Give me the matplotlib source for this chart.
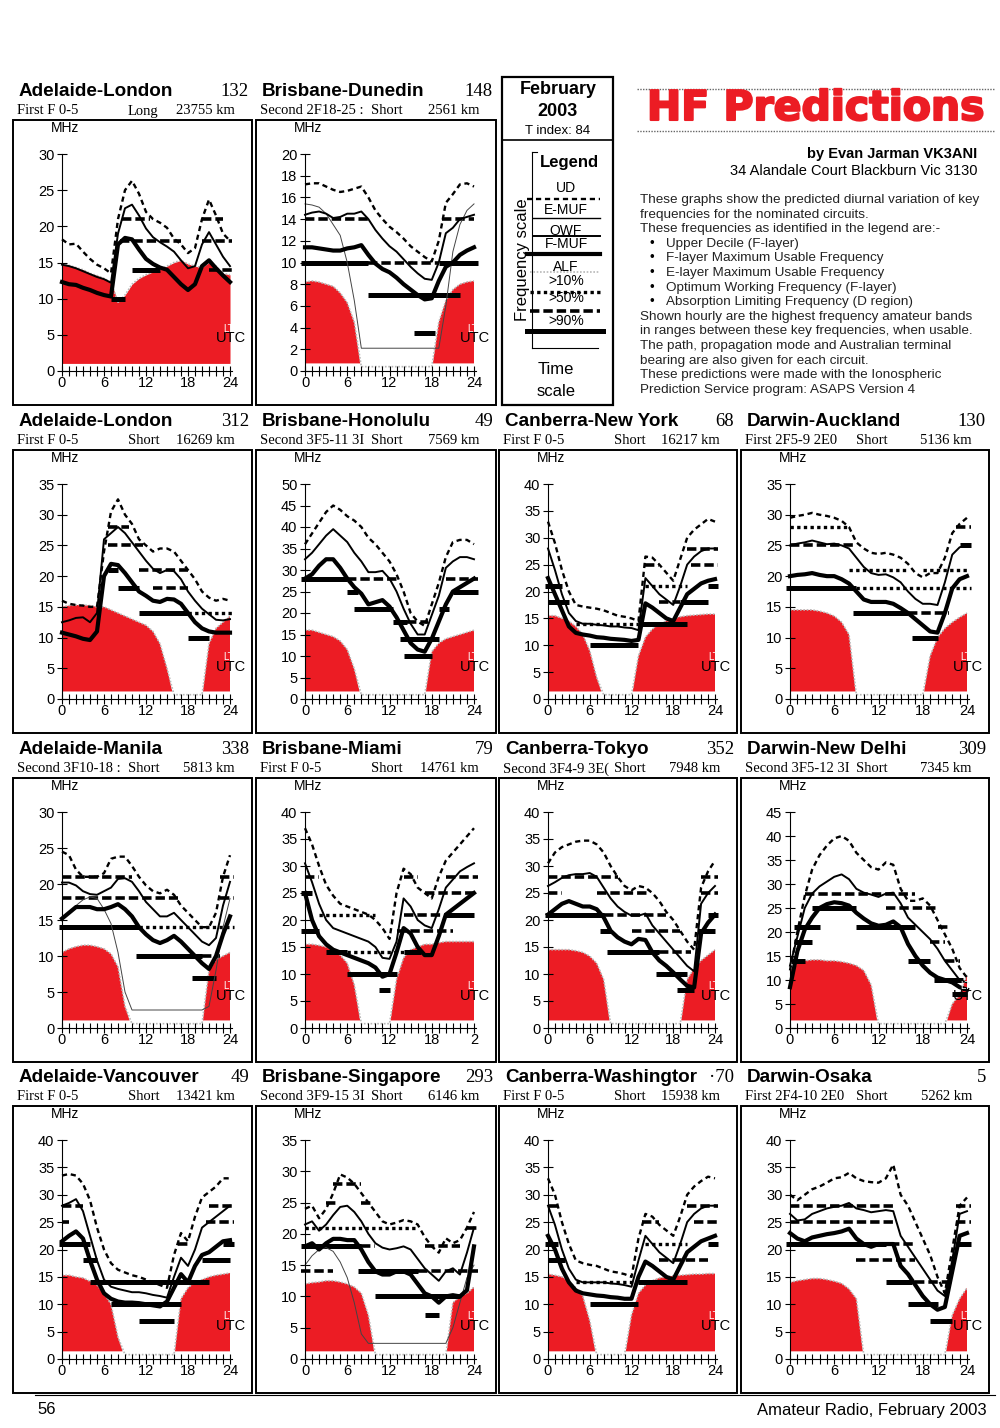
import matplotlib
matplotlib.use("Agg")
import numpy as np
import matplotlib.pyplot as plt
from matplotlib.patches import Rectangle
import matplotlib.patheffects as pe

W, H = 1000, 1428
RED = '#ec1c24'
SANS = ['Liberation Sans', 'DejaVu Sans']
SERIF = ['Liberation Serif', 'DejaVu Serif']

hours = list(range(25))
hour_labels = ['0', '6', '12', '18', '24']
miami_labels = ['0', '6', '12', '18', '2']

# band bars: (MHz, from hour, to hour, probability level %)

# Adelaide-London (long path)
al132_ud = [18.2, 17.5, 17.6, 16.5, 15.5, 14.7, 14.2, 13.5, 21, 25, 26.3, 24.5, 22, 21, 20.5, 19.8, 18.3, 17.5, 16.3, 17, 21, 23.7, 21.5, 19, 18]
al132_muf = [14.7, 14.5, 14.2, 13.8, 13.4, 13, 12.7, 12.2, 19, 22.5, 23, 21.5, 19.7, 18.5, 17.8, 17.2, 16.5, 15.3, 14.2, 14.5, 17.5, 19.2, 17.5, 15.8, 14.5]
al132_owf = [12.3, 12, 11.9, 11.5, 11.2, 10.8, 10.5, 10.3, 17.5, 18.4, 18.2, 16.8, 15.5, 14.8, 14.3, 14, 13, 12, 11.2, 12, 14.5, 15.3, 14.2, 13.2, 12.3]
al132_alf = [14.8, 14.6, 14.3, 14, 13.5, 13.2, 12.8, 12.3, 9.5, 10.5, 12, 12.8, 13.3, 13.7, 14, 14.5, 15, 15.3, 14.8, 14.5, 14.3, 15, 14.5, 13.5, 13.3]
al132_bands = [(21, 8.5, 12.5, 50), (18, 8.3, 17, 50), (14, 10, 14, 90), (10, 7, 9, 90),
               (21, 20, 23, 50), (18, 20, 24.3, 50), (14, 21, 24.3, 50)]

# Brisbane-Dunedin
bd_ud = [17.2, 17.3, 17.3, 17, 16.7, 16.5, 16.6, 16.8, 17, 16, 14.8, 14, 13.3, 12.8, 12.2, 11.5, 11, 10.5, 10.1, 12, 15.5, 16.3, 17.2, 17.3, 17]
bd_muf = [14.4, 14.6, 14.7, 14.5, 14.1, 14.2, 14.5, 14.5, 14.7, 14, 13, 12.2, 11.5, 11, 10.3, 9.6, 9, 8.5, 8.4, 10, 12.7, 13.2, 14, 14.2, 14.4]
bd_owf = [11.4, 11.4, 11.3, 11.2, 11.1, 11.1, 11.3, 11.4, 11.6, 10.7, 9.9, 9.4, 9.1, 8.6, 8, 7.5, 7, 6.6, 6.7, 8.3, 9.6, 10, 10.7, 11.1, 11.4]
bd_emuf = [15.4, 15.3, 15.1, 14.5, 13.5, 12.5, 10, 6.5, 2.1, 2.1, 2.1, 2.1, 2.1, 2.1, 2.1, 2.1, 2.1, 2.1, 2.1, 2.1, 6, 11, 13.5, 14.8, 15.4]
bd_alf = [8.2, 8.3, 8.2, 8, 7.8, 7.2, 6.3, 4.5, 0, 0, 0, 0, 0, 0, 0, 0, 0, 0, 0, 4.5, 6.5, 7.5, 8, 8.2, 8.3]
bd_bands = [(14, 0, 9, 50), (14, 19.5, 24, 50), (10, 9, 19, 50), (10, -0.5, 9, 90), (10, 19, 24.5, 90),
            (7, 9, 22, 90), (3.5, 15.5, 18.5, 90)]

# Adelaide-London (short path)
al312_ud = [16, 15.5, 15.3, 15.2, 15, 15, 24, 30.5, 32.5, 30, 28.5, 26, 25, 24, 24.5, 24.5, 24, 22.5, 21, 19.5, 17.5, 16.5, 16, 16.3, 16]
al312_muf = [12.5, 12.8, 13.2, 13.3, 12.5, 14, 26, 27, 28, 27, 25.5, 24, 22.5, 21.2, 20.5, 21, 20.8, 19.5, 17.5, 16, 14.7, 13.8, 12.9, 12.8, 13]
al312_owf = [10.8, 10.5, 10.2, 9.8, 9.6, 11, 20, 22, 21.8, 20.5, 19, 17.5, 16.8, 16, 15.8, 16.3, 16.2, 15.5, 14, 12.5, 11.5, 11, 10.8, 10.8, 10.8]
al312_alf = [15, 15.2, 15.3, 15.3, 15.2, 15, 15, 14.5, 14, 13.5, 13, 12.5, 12, 11, 9, 5, 0, 0, 0, 0, 0, 9, 11.5, 12.5, 13.5]
al312_bands = [(28, 6.5, 9.5, 50), (25, 6.5, 11.5, 50), (21, 11, 18, 50), (21, 6.5, 8, 90), (18, 13, 18, 50),
               (18, 8, 11, 90), (14, 11, 18, 90), (14, 18, 24.3, 10), (10, 18, 21, 90)]

# Brisbane-Honolulu
bh_ud = [36, 38.5, 41, 43.5, 45, 44, 42.5, 41.5, 40, 37.5, 36, 34, 32, 29, 25, 20, 18, 17, 22, 27, 33, 36.5, 37, 37, 36]
bh_muf = [32.5, 34, 36, 38, 39.5, 38, 36.5, 34, 32, 29.5, 29.5, 29.8, 28, 25, 21, 17.5, 15, 15, 19.5, 24, 30.5, 32, 33, 33, 32.5]
bh_owf = [28, 29, 31, 32.5, 32.5, 30.5, 28, 26, 24.5, 22, 22.5, 23, 21.5, 19, 16, 13, 11.5, 11, 14, 18, 22, 25, 26, 27, 28]
bh_alf = [16, 16, 15.5, 15, 14.5, 13.5, 11.5, 7, 0, 0, 0, 0, 0, 0, 0, 0, 0, 0, 11, 13, 14, 14.5, 15, 15.5, 16]
bh_bands = [(28, -0.5, 6, 90), (28, 6, 13, 50), (28, 20, 24.5, 50), (25, 6, 7.5, 90), (25, 21, 24.5, 90),
            (21, 7, 12.5, 90), (21, 19, 20.5, 90), (18, 12.5, 14.5, 90), (18, 14.5, 17.5, 50),
            (14, 13.5, 19, 90), (10, 14, 18, 90)]

# Canberra-New York
cny_ud = [33, 29, 24, 20, 17.5, 17.2, 17, 16.8, 16.5, 16, 15.5, 15.3, 15, 14.5, 26.5, 26.3, 25, 23.5, 22, 26, 30, 31.5, 32.5, 33.5, 33]
cny_muf = [28, 24, 19.5, 16, 14.5, 14, 14, 13.8, 13.7, 13.5, 13.5, 13.3, 13.2, 12.8, 22.5, 21, 19.5, 18.5, 17.5, 21, 25, 26.5, 27.5, 28, 28]
cny_owf = [22.5, 19.5, 16.5, 13.5, 12.3, 12, 11.8, 11.5, 11.4, 11.2, 11.1, 11, 10.8, 11, 17.8, 17, 16, 15, 14.5, 17, 19.5, 20.5, 21.5, 22, 22.3]
cny_alf = [15.5, 15.5, 15, 14.5, 13.5, 12, 9, 4, 0, 0, 0, 0, 0, 8, 11.5, 13, 14, 14.5, 15, 15.3, 15.5, 15.6, 15.7, 15.8, 15.8]
cny_bands = [(21, -0.5, 2, 90), (18, 0, 3, 90), (14, 4, 13, 10), (14, 13, 20, 90), (10, 6, 13, 90),
             (25, 14, 16, 50), (25, 20.5, 24.5, 50), (28, 20, 24.5, 50), (21, 14, 20, 10), (21, 23, 24.5, 90),
             (18, 16, 19, 50), (18, 19, 23, 90)]

# Darwin-Auckland
da_ud = [29.5, 29.8, 30, 30.3, 30, 29.8, 29.5, 29, 28, 25.5, 24.5, 23.8, 23.6, 23.8, 23.5, 23, 22, 20.5, 19.8, 20.5, 20.5, 23, 27, 28.5, 29.5]
da_muf = [25, 25.3, 25.5, 25.8, 25.5, 25.2, 25.3, 25, 24.5, 23, 21.5, 20.5, 20.2, 20.3, 19.8, 19, 17.5, 16.3, 15.5, 15.5, 15.3, 19, 23.5, 24.7, 25]
da_owf = [20, 20.2, 20.3, 20.5, 20.2, 20, 20, 19.5, 18.8, 17.5, 16.2, 15.8, 15.8, 15.8, 15.5, 14.8, 14, 13, 12, 11, 10.8, 14, 18, 19.5, 20]
da_alf = [14.5, 14.5, 14.5, 14.5, 14.3, 14, 13.5, 12.5, 10.5, 0, 0, 0, 0, 0, 0, 0, 0, 0, 0, 7, 10, 11.5, 12.5, 13.3, 14]
da_bands = [(28, 0, 8, 10), (28, 22.5, 24.5, 50), (25, 0, 8.5, 50), (25, 23, 24.5, 90), (21, 8, 16, 10),
            (21, 18, 24, 10), (18, -0.5, 9, 90), (18, 9, 24.5, 10), (14, 8.5, 16, 90), (14, 16, 21.5, 50),
            (10, 16.5, 20, 90)]

# Adelaide-Manila
am_ud = [24.5, 24, 22, 21, 21, 21, 21.5, 23.5, 23.8, 23.8, 22.5, 21, 19.8, 19, 18.7, 19.2, 18.5, 17, 16, 15, 14, 14, 16, 21, 24]
am_muf = [20.2, 20.2, 19.8, 19, 18.6, 18.5, 19, 19.5, 20.7, 20.8, 20.3, 19, 17.5, 16.5, 15.5, 15.5, 16, 15, 14, 13, 12, 11.5, 12.5, 17, 20.3]
am_owf = [15.2, 16, 16.8, 16.8, 16.8, 16.5, 16.5, 16.8, 17.2, 16.5, 15.5, 14, 13, 12.2, 11.8, 12.2, 12.8, 12, 11, 10, 9, 8.2, 10, 13, 15.5]
am_emuf = [15.2, 16, 17, 17.8, 18.2, 18, 16.5, 14.5, 10.5, 5, 2.5, 2.5, 2.5, 2.5, 2.5, 2.5, 2.5, 2.5, 2.5, 2.5, 2.5, 3, 8, 14, 18]
am_alf = [10.5, 11, 11.3, 11.5, 11.5, 11.3, 11, 10.3, 8.5, 3, 0, 0, 0, 0, 0, 0, 0, 0, 0, 0, 0, 8, 9.5, 10, 10.5]
am_bands = [(21, 0, 10, 50), (21, 22.5, 24.5, 50), (18, 0, 16.5, 50), (18, 22.5, 24.5, 50), (14, -0.5, 11, 90),
            (14, 11, 24.5, 10), (10, 10.5, 20, 90), (10, 20, 22.5, 50), (7, 18.5, 22, 90)]

# Brisbane-Miami
bm_ud = [37, 34, 30, 26.5, 24.5, 23, 22.5, 22, 21.5, 21, 20, 18.5, 16.5, 25, 29.5, 28.5, 26, 25, 24, 28, 31, 32.5, 34, 35.5, 37]
bm_muf = [30.5, 27, 23, 20, 18.5, 18, 17.5, 17, 16.5, 16, 15, 13, 12.8, 16, 24, 22.5, 20, 19, 18.5, 22, 26, 27.5, 29, 29.8, 30.5]
bm_owf = [25, 20, 17, 15.5, 14.5, 14, 13.5, 13, 12.5, 12, 11.2, 9.5, 10, 14, 18.5, 17.5, 15, 13.5, 13.5, 17, 21, 22, 23, 24, 25]
bm_alf = [15.5, 15.5, 15.3, 15, 14.5, 13.5, 12, 8, 0, 0, 0, 0, 0, 9, 13, 14.5, 15, 15.5, 15.5, 15.8, 16, 16, 16, 16, 16]
bm_bands = [(28, 0, 2, 50), (28, 14, 16, 50), (28, 20, 24.5, 50), (25, -0.5, 1, 90), (25, 17, 24.5, 50),
            (21, 2, 10, 10), (21, 14, 20, 50), (21, 20, 24, 90), (18, -0.5, 2, 90), (18, 13, 21, 50),
            (14, 3, 6, 90), (14, 6, 14, 10), (14, 14, 16.5, 90), (10, 6, 13, 90), (7, 10.5, 12, 90)]

# Canberra-Tokyo
ct_ud = [30.5, 32.5, 33.5, 34, 34.5, 34.7, 34.7, 34, 32.5, 30, 28, 26.3, 25.5, 26.3, 26, 25, 23.5, 21.5, 20, 18, 16, 14.5, 26, 29, 31]
ct_muf = [26.3, 27, 27.8, 28.3, 28.5, 28.5, 28.7, 28, 26, 24, 22.5, 21.5, 20.8, 20.8, 21.2, 19, 17.5, 16, 14.5, 13, 11.5, 10.5, 23, 25, 26.3]
ct_owf = [21, 22, 23, 23.5, 23, 22.5, 22.5, 22, 20.5, 18, 16.8, 16, 15.5, 16.5, 16.3, 14, 12.5, 11.5, 10.3, 9, 7.8, 7.5, 17.5, 19.5, 21]
ct_alf = [14.5, 14.5, 14.5, 14.5, 14.3, 14, 13.3, 12, 9, 0, 0, 0, 0, 0, 0, 0, 0, 0, 0, 0, 9, 11, 12.5, 13.5, 14.5]
ct_bands = [(28, 0, 10, 50), (28, 22, 24.5, 50), (25, 0, 2, 50), (25, 7, 14.5, 50), (25, 22, 24.5, 50),
            (21, -0.5, 8, 90), (21, 8, 17, 50), (21, 23, 24.5, 90), (18, 7.5, 9, 90), (18, 12, 19, 50),
            (18, 21.5, 24, 90), (14, 8.5, 16, 90), (14, 16, 20.5, 50), (10, 15.5, 20, 90), (7, 18.5, 21, 90)]

# Darwin-New Delhi
dnd_ud = [12, 20, 27.5, 33, 36, 38, 39.5, 40, 39, 36.5, 35, 33.5, 33, 34.5, 34, 29, 26.5, 26.5, 27, 25.5, 22.5, 19.5, 16.5, 12.5, 10.5]
dnd_muf = [13, 19, 25, 28, 29.5, 30.5, 31.5, 32, 31, 29, 28.2, 27.8, 27.3, 28, 28.2, 26, 23, 21.5, 20, 18.5, 16.5, 14, 12, 10, 9.5]
dnd_owf = [8.5, 16, 20.5, 23, 25, 25.8, 26.2, 26, 25.5, 24, 22.8, 21.8, 21.3, 21.5, 22.2, 21, 17.5, 15, 13, 11.5, 10.5, 10, 9.5, 8.5, 8]
dnd_alf = [12, 13.5, 14, 14.2, 14.2, 14, 14, 13.8, 13.5, 13, 12, 9, 0, 0, 0, 0, 0, 0, 0, 0, 0, 0, 5, 7, 11]
dnd_bands = [(28, 2, 17, 50), (25, 3, 9, 90), (25, 13, 20, 50), (21, 0.5, 4, 90), (21, 9, 17, 90),
             (21, 20, 21.5, 50), (18, 0.5, 3, 90), (18, 19, 21, 50), (14, 0.2, 2, 90), (14, 16, 19, 90),
             (14, 21, 23, 50), (10, 19.5, 23.5, 90), (7, 22, 24, 90)]

# Adelaide-Vancouver
av_ud = [33.5, 33.8, 33.5, 32, 29, 24, 20, 17.5, 16.3, 15.8, 15.3, 15, 14.5, 14, 13.5, 13, 19, 23, 21.5, 26, 29.5, 30.5, 31.5, 33, 33]
av_muf = [28, 28.5, 29.2, 27, 22.5, 18, 14.5, 13.2, 12.8, 12.5, 12.2, 12.2, 12, 11.7, 11.5, 11.2, 15, 18.5, 17, 20, 24, 25, 26, 27, 28]
av_owf = [21.5, 22.5, 23.3, 22, 18, 14.5, 12, 11, 10.5, 10.3, 10.3, 10.2, 10, 9.8, 9.6, 10.5, 13, 15.5, 14, 17, 19, 19.5, 20.5, 21.5, 21.7]
av_alf = [15.3, 15.3, 15, 14.8, 14.2, 13.5, 12, 10, 4, 0, 0, 0, 0, 0, 0, 0, 0, 11, 13, 14, 14.5, 15, 15.3, 15.5, 15.7]
av_bands = [(28, 0, 3, 50), (28, 21, 24.5, 50), (25, 0, 1, 50), (25, 20.5, 24.5, 50), (21, -0.5, 4, 90),
            (21, 16.5, 18, 50), (21, 23, 24.5, 90), (18, 3, 5, 90), (18, 20, 24, 90), (14, 4, 21, 90),
            (10, 7, 17, 90), (7, 11, 16, 90)]

# Brisbane-Singapore
bs_ud = [24, 24.5, 22.5, 24, 26.5, 29.5, 29, 28, 26.5, 25, 23.5, 22, 21.5, 21.8, 22.2, 22, 21.5, 19.5, 18, 17, 19.3, 18.5, 19, 21, 23.5]
bs_muf = [21.5, 22, 20.5, 21.5, 23, 24.3, 24.5, 23.5, 22, 20, 18.5, 17.8, 17.5, 17.7, 18, 17.5, 16, 14.5, 13.5, 12.5, 14, 14.5, 13.5, 17, 21]
bs_owf = [18, 18.5, 17.5, 18.5, 19.2, 19.2, 19, 19, 17.5, 15.5, 14, 13.5, 13.5, 14, 14, 13.5, 12, 10.5, 10, 9, 10, 10.2, 10, 11, 18]
bs_emuf = [15, 16.5, 17.5, 17.8, 17.2, 15.5, 13, 9, 4, 2.5, 2.5, 2.5, 2.5, 2.5, 2.5, 2.5, 2.5, 2.5, 2.5, 2.5, 2.5, 5, 9, 13, 15]
bs_alf = [12, 12.2, 12.3, 12.5, 12.5, 12.3, 12, 11.5, 10.5, 7, 0, 0, 0, 0, 0, 0, 0, 0, 0, 0, 0, 9, 10, 10.5, 11.5]
bs_bands = [(28, 4, 8, 50), (25, 3, 4.5, 50), (25, 8, 9.5, 50), (21, 0, 16, 10), (21, 23, 24.5, 50),
            (18, -0.5, 8, 90), (18, 8, 10, 50), (18, 17, 22, 50), (14, -0.5, 4, 50), (14, 7.5, 16, 90),
            (14, 16, 24.5, 50), (10, 10, 22, 90), (7, 17, 19, 90)]

# Canberra-Washington
cw_ud = [33, 30, 25, 21, 18, 17.5, 17.2, 17, 16.5, 16, 15.8, 15.5, 15, 22, 26.5, 26, 24.5, 23.5, 22.5, 26, 30, 31.5, 32.5, 33.3, 33]
cw_muf = [28, 24.5, 20, 16.5, 14.5, 14, 14, 14, 14, 13.8, 13.7, 13.5, 13.2, 18, 22.5, 21, 19.5, 18.5, 17.5, 21, 25, 26.5, 27.5, 28, 28]
cw_owf = [22.5, 20, 16.5, 14, 12.5, 12, 11.8, 11.6, 11.5, 11.3, 11.2, 11, 11, 15, 17.8, 17, 16, 15, 14.5, 17, 19.5, 20.5, 21.5, 22, 22.5]
cw_alf = [15.5, 15.3, 15, 14.3, 13, 11.5, 7, 0, 0, 0, 0, 0, 8, 12, 13.5, 14.3, 14.8, 15, 15.2, 15.3, 15.4, 15.5, 15.5, 15.6, 15.6]
cw_bands = [(28, 0, 1.5, 50), (28, 20, 24.5, 50), (25, 13.5, 16, 50), (25, 21, 24.5, 50), (21, -0.5, 1.5, 90),
            (21, 14, 20, 10), (21, 23, 24.5, 90), (18, 0, 2.5, 90), (18, 16, 23, 50), (14, 4, 13, 10),
            (14, 13, 20, 90), (10, 6, 13, 90)]

# Darwin-Osaka
do_ud = [30, 29, 30, 31, 31.5, 32.2, 33, 33.2, 34, 33, 32.5, 32.3, 32.2, 33, 35.5, 30, 28, 25, 22, 19, 15, 12, 20, 28, 29.5]
do_muf = [26.5, 25.3, 25.5, 26.5, 27, 27.5, 27.8, 28, 28.5, 27.5, 27.2, 26.8, 27, 27.2, 27, 22.5, 20.5, 18.5, 16.5, 14.5, 12.5, 11.5, 18, 26.5, 27]
do_owf = [23, 22, 21.5, 22.2, 22.5, 22.8, 23, 23.3, 23.8, 22, 21, 20.5, 21, 21, 21, 17, 15.5, 13.5, 11.5, 10, 9, 9.5, 16, 22.5, 23]
do_alf = [14, 14.3, 14.5, 14.7, 14.7, 14.5, 14.2, 13.8, 12.8, 11, 0, 0, 0, 0, 0, 0, 0, 0, 0, 0, 0, 0, 8, 11, 13]
do_bands = [(28, 0, 14, 50), (28, 22.5, 24.5, 50), (25, 0, 14, 50), (25, 22.5, 24.5, 50), (21, -0.5, 13, 90),
            (21, 13.5, 17, 50), (21, 22.5, 24.5, 90), (18, 9, 17, 50), (14, 13, 16.5, 90), (14, 17, 22, 50),
            (10, 16, 20, 90), (7, 19, 22, 90)]

# (name, bearing, mode, path, distance, ymax, step, ud, muf, owf, emuf, alf, bands, xlabels)
panels = [
    ("Adelaide-London", "132", "First F 0-5", "Long", "23755 km", 30, 5, al132_ud, al132_muf, al132_owf, None, al132_alf, al132_bands, hour_labels),
    ("Brisbane-Dunedin", "148", "Second 2F18-25 :", "Short", "2561 km", 20, 2, bd_ud, bd_muf, bd_owf, bd_emuf, bd_alf, bd_bands, hour_labels),
    ("Adelaide-London", "312", "First F 0-5", "Short", "16269 km", 35, 5, al312_ud, al312_muf, al312_owf, None, al312_alf, al312_bands, hour_labels),
    ("Brisbane-Honolulu", "49", "Second 3F5-11 3I", "Short", "7569 km", 50, 5, bh_ud, bh_muf, bh_owf, None, bh_alf, bh_bands, hour_labels),
    ("Canberra-New York", "68", "First F 0-5", "Short", "16217 km", 40, 5, cny_ud, cny_muf, cny_owf, None, cny_alf, cny_bands, hour_labels),
    ("Darwin-Auckland", "130", "First 2F5-9 2E0", "Short", "5136 km", 35, 5, da_ud, da_muf, da_owf, None, da_alf, da_bands, hour_labels),
    ("Adelaide-Manila", "338", "Second 3F10-18 :", "Short", "5813 km", 30, 5, am_ud, am_muf, am_owf, am_emuf, am_alf, am_bands, hour_labels),
    ("Brisbane-Miami", "79", "First F 0-5", "Short", "14761 km", 40, 5, bm_ud, bm_muf, bm_owf, None, bm_alf, bm_bands, miami_labels),
    ("Canberra-Tokyo", "352", "Second 3F4-9 3E(", "Short", "7948 km", 40, 5, ct_ud, ct_muf, ct_owf, None, ct_alf, ct_bands, hour_labels),
    ("Darwin-New Delhi", "309", "Second 3F5-12 3I", "Short", "7345 km", 45, 5, dnd_ud, dnd_muf, dnd_owf, None, dnd_alf, dnd_bands, hour_labels),
    ("Adelaide-Vancouver", "49", "First F 0-5", "Short", "13421 km", 40, 5, av_ud, av_muf, av_owf, None, av_alf, av_bands, hour_labels),
    ("Brisbane-Singapore", "293", "Second 3F9-15 3I", "Short", "6146 km", 35, 5, bs_ud, bs_muf, bs_owf, bs_emuf, bs_alf, bs_bands, hour_labels),
    ("Canberra-Washingtor", "\u00b770", "First F 0-5", "Short", "15938 km", 40, 5, cw_ud, cw_muf, cw_owf, None, cw_alf, cw_bands, hour_labels),
    ("Darwin-Osaka", "5", "First 2F4-10 2E0", "Short", "5262 km", 40, 5, do_ud, do_muf, do_owf, None, do_alf, do_bands, hour_labels),
]
slots = [(0, 0), (1, 0)] + [(c, r) for r in (1, 2, 3) for c in range(4)]

box_cols = [(13, 252), (256, 496), (499, 737), (741, 989)]
box_rows = [(120, 405), (450, 733), (778, 1062), (1106, 1393)]

band_style = {
    90: dict(ls='-', lw=3.6),
    50: dict(ls=(0, (2.6, 1.1)), lw=2.6),
    10: dict(ls=(0, (1.0, 1.0)), lw=2.4),
}
ud_style = dict(lw=1.7, ls=(0, (2.2, 1.6)))

fig = plt.figure(figsize=(W / 100, H / 100), dpi=100)
page = fig.add_axes([0, 0, 1, 1])
page.set_xlim(0, W)
page.set_ylim(H, 0)
page.axis('off')


def draw_panel(p, col, row):
    name, bearing, mode, path, dist, ymax, step, ud, muf, owf, emuf, alf, bands, xlabels = p
    bl, br = box_cols[col]
    bt, bb = box_rows[row]
    page.add_patch(Rectangle((bl, bt), br - bl, bb - bt, fill=False, lw=1.4, ec='black'))
    page.text(bl + 6, bt - 29, name, fontsize=13.6, fontweight='bold', family=SANS, va='center')
    page.text(br - 3, bt - 29, bearing, fontsize=13.5, family=SERIF, ha='right', va='center')
    page.text(bl + 4, bt - 9, mode, fontsize=10.5, family=SERIF, va='center')
    page.text(bl + 115, bt - 9, path, fontsize=10.5, family=SERIF, va='center')
    page.text(br - 17, bt - 9, dist, fontsize=10.5, family=SERIF, ha='right', va='center')

    x0, x24 = bl + 49, br - 22
    ytop, ybot = bt + 34, bb - 34
    pph = (x24 - x0) / 24
    left, right = x0 - 0.8 * pph, x24 + 1.0 * pph
    page.text(x0 + 3, bt + 8, 'MHz', fontsize=10, family=SANS, ha='center', va='center')

    ax = fig.add_axes([left / W, 1 - ybot / H, (right - left) / W, (ybot - ytop) / H])
    ax.patch.set_alpha(0)
    ax.set_xlim(-0.8, 25)
    ax.set_ylim(0, ymax)

    a = np.array(alf, dtype=float)
    base = ymax * 0.035
    ax.fill_between(hours, base, a, where=a > base, interpolate=True, color=RED, lw=0, zorder=1)
    ax.plot(hours, np.maximum(a, ymax * 0.02), color='#b8b8b8', lw=1.2, ls=(0, (1, 1)), zorder=1.5)

    for f, h0, h1, lev in bands:
        ax.plot([h0, h1], [f, f], color='black', solid_capstyle='butt', dash_capstyle='butt',
                zorder=2, **band_style[lev])

    if emuf is not None:
        ax.plot(hours, emuf, color='#444444', lw=0.7, zorder=2.5)
    ax.plot(hours, ud, color='black', zorder=3, **ud_style)
    ax.plot(hours, muf, color='black', lw=1.4, zorder=3)
    ax.plot(hours, owf, color='black', lw=3.0, zorder=3, solid_joinstyle='round')

    ax.text(0.955, 0.195, 'LT', transform=ax.transAxes, fontsize=7, color='white',
            family=SANS, ha='center', va='center', zorder=5)
    ax.text(0.965, 0.15, 'UTC', transform=ax.transAxes, fontsize=10.5, color='black',
            family=SANS, ha='center', va='center', zorder=5)

    for s in ('top', 'right'):
        ax.spines[s].set_visible(False)
    ax.spines['left'].set_position(('data', 0))
    ax.spines['left'].set_linewidth(0.8)
    ax.spines['bottom'].set_bounds(0, 24.3)
    ax.spines['bottom'].set_linewidth(0.8)
    ax.set_xticks([0, 6, 12, 18, 24])
    ax.set_xticklabels(xlabels)
    ax.set_xticks(hours, minor=True)
    ax.set_yticks(list(range(0, ymax + 1, step)))
    ax.tick_params(axis='x', which='both', direction='inout', length=7, width=0.8, labelsize=10.5, pad=0)
    ax.tick_params(axis='y', direction='inout', length=7, width=0.8, labelsize=10.5, pad=2)
    for lab in ax.get_xticklabels() + ax.get_yticklabels():
        lab.set_family(SANS)


for p, (c, r) in zip(panels, slots):
    draw_panel(p, c, r)

# legend box
page.add_patch(Rectangle((502, 77), 111, 328, fill=False, lw=1.6, ec='black'))
page.plot([502, 613], [140, 140], color='black', lw=1.2)
page.text(558, 90, 'February', fontsize=13, fontweight='bold', family=SANS, ha='center', va='center')
page.text(558, 111, '2003', fontsize=13, fontweight='bold', family=SANS, ha='center', va='center')
page.text(558, 131, 'T index: 84', fontsize=9.5, family=SANS, ha='center', va='center')
page.plot([532, 532], [152, 348], color='black', lw=0.8)
page.plot([532, 537], [152, 152], color='black', lw=0.8)
page.plot([532, 598], [348, 348], color='black', lw=0.8)
page.text(569, 162, 'Legend', fontsize=12, fontweight='bold', family=SANS, ha='center', va='center')
page.text(522, 260, 'Frequency scale', fontsize=12, family=SANS, rotation=90, ha='center', va='center')
legend_entries = [('UD', 188), ('E-MUF', 210), ('OWF', 231), ('F-MUF', 244), ('ALF', 267),
                  ('>10%', 281), ('>50%', 298), ('>90%', 321)]
for lab, yy in legend_entries:
    page.text(566, yy, lab, fontsize=10, family=SANS, ha='center', va='center')
page.plot([527, 600], [199, 199], color='black', **ud_style)
page.plot([533, 600], [218, 218], color='black', lw=1.0)
page.plot([533, 600], [236, 236], color='black', lw=1.4)
page.plot([527, 600], [254, 254], color='black', lw=3.0)
page.plot([530, 600], [272, 272], color='#b8b8b8', lw=1.2, ls=(0, (1, 1)))
page.plot([530, 600], [292, 292], color='black', **band_style[10])
page.plot([530, 600], [311, 311], color='black', **band_style[50])
page.plot([527, 603], [331, 331], color='black', **band_style[90])
page.text(556, 370, 'Time', fontsize=12, family=SANS, ha='center', va='center')
page.text(556, 391, 'scale', fontsize=12, family=SANS, ha='center', va='center')

# header block
page.plot([637, 995], [89, 89], color='#666666', lw=1.0, ls=(0, (1, 1)))
page.plot([637, 995], [131, 131], color='#666666', lw=1.0, ls=(0, (1, 1)))
page.text(816, 109, 'HF Predictions', fontsize=29.5, fontweight='bold', family=['DejaVu Sans'],
          color=RED, ha='center', va='center',
          path_effects=[pe.withStroke(linewidth=1.5, foreground=RED)])
page.text(977, 154, 'by Evan Jarman VK3ANI', fontsize=10.5, fontweight='bold', family=SANS,
          ha='right', va='center')
page.text(977, 171, '34 Alandale Court Blackburn Vic 3130', fontsize=10.5, family=SANS,
          ha='right', va='center')

body = [
    (640, "These graphs show the predicted diurnal variation of key"),
    (640, "frequencies for the nominated circuits."),
    (640, "These frequencies as identified in the legend are:-"),
    (666, "Upper Decile (F-layer)"),
    (666, "F-layer Maximum Usable Frequency"),
    (666, "E-layer Maximum Usable Frequency"),
    (666, "Optimum Working Frequency (F-layer)"),
    (666, "Absorption Limiting Frequency (D region)"),
    (640, "Shown hourly are the highest frequency amateur bands"),
    (640, "in ranges between these key frequencies, when usable."),
    (640, "The path, propagation mode and Australian terminal"),
    (640, "bearing are also given for each circuit."),
    (640, "These predictions were made with the Ionospheric"),
    (640, "Prediction Service program: ASAPS Version 4"),
]
for i, (xx, line) in enumerate(body):
    yy = 200 + i * 14.6
    page.text(xx, yy, line, fontsize=9.7, family=SANS, ha='left', va='center', color='#222222')
    if xx > 640:
        page.text(652, yy, '\u2022', fontsize=9.7, family=SANS, ha='center', va='center')

# footer
page.plot([35, 995], [1395, 1395], color='black', lw=0.8)
page.text(37, 1410, '56', fontsize=12, family=SANS, ha='left', va='center')
page.text(987, 1410, 'Amateur Radio, February 2003', fontsize=12, family=SANS, ha='right', va='center')

fig.savefig('out.png', dpi=100)
